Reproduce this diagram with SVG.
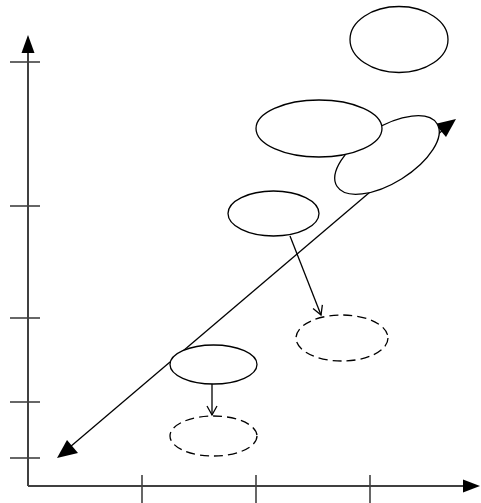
<svg xmlns="http://www.w3.org/2000/svg" width="481" height="503" viewBox="0 0 481 503">
<style>
.axis{stroke:#404040;stroke-width:2;fill:none}
.tick{stroke:#404040;stroke-width:1.6;fill:none}
.node{fill:#fff;stroke:#000;stroke-width:1.3}
.dash{fill:none;stroke:#000;stroke-width:1.3;stroke-dasharray:9 5}
.conn{stroke:#000;stroke-width:1.3;fill:none}
</style>
<defs>
<marker id="open" markerWidth="12" markerHeight="12" refX="10" refY="6" orient="auto" markerUnits="userSpaceOnUse">
<path d="M1,1 L10,6 L1,11" fill="none" stroke="#000" stroke-width="1.3"/>
</marker>
</defs>
<rect width="481" height="503" fill="#fff"/>
<g id="axes">
<line class="axis" x1="28" y1="486" x2="28" y2="50"/>
<polygon points="28,35 21.5,53 34.5,53" fill="#000"/>
<line class="axis" x1="28" y1="486" x2="465" y2="486"/>
<polygon points="480,486 463,479.5 463,492.5" fill="#000"/>
<line class="tick" x1="10" y1="62" x2="40" y2="62"/>
<line class="tick" x1="10" y1="206" x2="40" y2="206"/>
<line class="tick" x1="10" y1="318" x2="40" y2="318"/>
<line class="tick" x1="10" y1="402" x2="40" y2="402"/>
<line class="tick" x1="10" y1="458" x2="40" y2="458"/>
<line class="tick" x1="142" y1="475" x2="142" y2="503"/>
<line class="tick" x1="256" y1="475" x2="256" y2="503"/>
<line class="tick" x1="370" y1="475" x2="370" y2="503"/>
</g>
<g id="connectors">
<line class="conn" x1="70" y1="447" x2="443" y2="130"/>
<polygon points="57,458 67,440 78,453" fill="#000"/>
<polygon points="456,119 446,137 435,124" fill="#000"/>
<line class="conn" x1="290" y1="236" x2="321" y2="315" marker-end="url(#open)"/>
<line class="conn" x1="212" y1="384" x2="212" y2="415" marker-end="url(#open)"/>
</g>
<g id="n-top"><ellipse class="node" cx="399" cy="39.5" rx="49" ry="33"/></g>
<g id="n-tilted"><ellipse class="node" cx="387" cy="155" rx="59" ry="28" transform="rotate(-32 387 155)"/></g>
<g id="n-wide"><ellipse class="node" cx="319" cy="128.5" rx="63" ry="28.5"/></g>
<g id="n-mid"><ellipse class="node" cx="273.5" cy="213.5" rx="45.5" ry="22.5"/></g>
<g id="n-mid-dash"><ellipse class="dash" cx="342" cy="338" rx="46" ry="23"/></g>
<g id="n-low"><ellipse class="node" cx="213.5" cy="364.5" rx="43.5" ry="19.5"/></g>
<g id="n-low-dash"><ellipse class="dash" cx="213.5" cy="436" rx="43.5" ry="20"/></g>
</svg>
